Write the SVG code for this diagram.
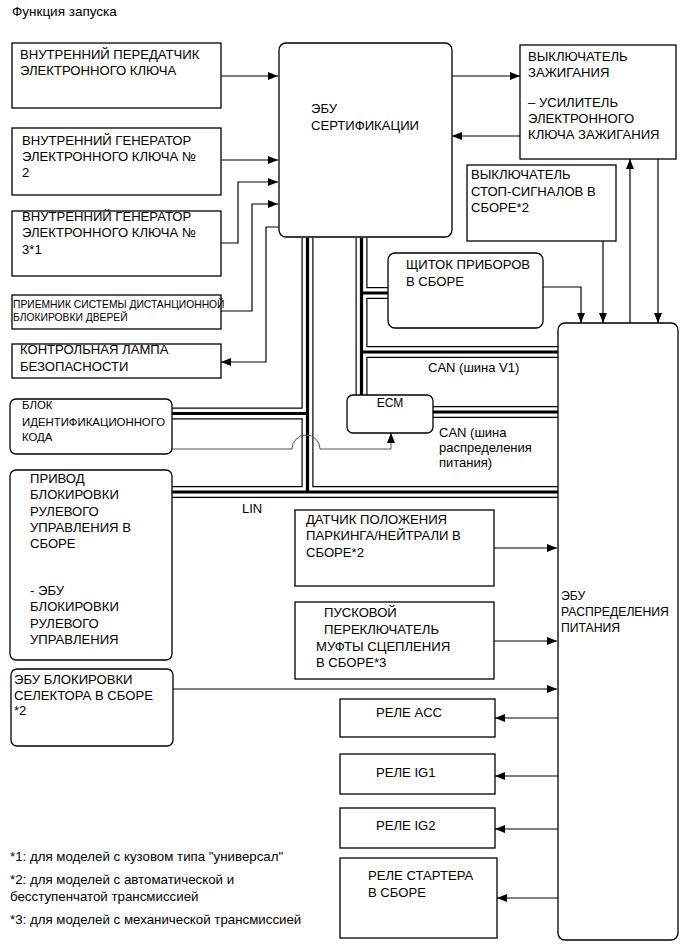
<svg xmlns="http://www.w3.org/2000/svg" width="690" height="952" viewBox="0 0 690 952">
<defs>
<style>
.box{fill:#fff;stroke:#000;stroke-width:1.3}
.t{font-family:"Liberation Sans",Arial,sans-serif;font-size:13.1px;fill:#000}
.s{font-size:10.3px}
.m{font-size:11.4px}
.c{font-size:13px}
.p{font-size:12.2px}
.fn{font-family:"Liberation Sans",Arial,sans-serif;font-size:13.3px;fill:#000}
.ln{fill:none;stroke:#000;stroke-width:1.2}
.gl{fill:none;stroke:#555;stroke-width:1}
.bo{fill:none;stroke:#000;stroke-width:12}
.bw{fill:none;stroke:#fff;stroke-width:9.6}
.bc{fill:none;stroke:#000;stroke-width:3.2}
</style>
<marker id="ar" markerWidth="10" markerHeight="8" refX="10" refY="4" orient="auto" markerUnits="userSpaceOnUse">
<path d="M0,0 L10,4 L0,8 Z" fill="#000"/>
</marker>
</defs>
<rect width="690" height="952" fill="#fff"/>
<text class="t" x="12" y="16" style="font-size:13.5px">Функция запуска</text>

<g id="connectors">
<g id="buses">
<path class="bo" d="M307.5,238 V492 M172,492 H558 M172,413.5 H307.5 M361.5,238 V395 M361.5,293 H388 M361.5,352 H558 M433,412 H558"/>
<path class="bw" d="M307.5,238 V492 M172,492 H558 M172,413.5 H307.5 M361.5,238 V395 M361.5,293 H388 M361.5,352 H558 M433,412 H558"/>
<path class="bc" d="M307.5,238 V492 M172,492 H558 M172,413.5 H307.5 M361.5,238 V395 M361.5,293 H388 M361.5,352 H558 M433,412 H558"/>
</g>
<path class="ln" marker-end="url(#ar)" d="M221,76 H278"/>
<path class="ln" marker-end="url(#ar)" d="M221,160 H278"/>
<path class="ln" marker-end="url(#ar)" d="M221,243 H238 V182 H278"/>
<path class="ln" marker-end="url(#ar)" d="M221,311 H252 V204 H278"/>
<path class="ln" marker-end="url(#ar)" d="M279,227 H266 V362 H221"/>
<path class="ln" marker-end="url(#ar)" d="M452,76 H520"/>
<path class="ln" marker-end="url(#ar)" d="M520,136 H452"/>
<path class="ln" marker-end="url(#ar)" d="M543,287 H581 V323"/>
<path class="ln" marker-end="url(#ar)" d="M603,241 V323"/>
<path class="ln" marker-end="url(#ar)" d="M630,323 V159"/>
<path class="ln" marker-end="url(#ar)" d="M658,159 V323"/>
<path class="gl" marker-end="url(#ar)" d="M172,449 H292 A14,14 0 0 1 320,449 H391 V433"/>
<path class="ln" marker-end="url(#ar)" d="M494,548 H557"/>
<path class="ln" marker-end="url(#ar)" d="M494,641 H557"/>
<path class="ln" marker-end="url(#ar)" d="M173,689 H557"/>
<path class="ln" marker-end="url(#ar)" d="M558,718 H495"/>
<path class="ln" marker-end="url(#ar)" d="M558,776 H495"/>
<path class="ln" marker-end="url(#ar)" d="M558,829 H495"/>
<path class="ln" marker-end="url(#ar)" d="M558,898 H497"/>
</g>

<g id="n-transmitter">
<rect class="box" x="12" y="43" width="209" height="65"/>
<text class="t" x="20" y="59">ВНУТРЕННИЙ ПЕРЕДАТЧИК</text>
<text class="t" x="20" y="75">ЭЛЕКТРОННОГО КЛЮЧА</text>
</g>
<g id="n-gen2">
<rect class="box" x="12" y="128" width="209" height="67"/>
<text class="t" x="22" y="145">ВНУТРЕННИЙ ГЕНЕРАТОР</text>
<text class="t" x="22" y="161">ЭЛЕКТРОННОГО КЛЮЧА №</text>
<text class="t" x="22" y="177">2</text>
</g>
<g id="n-gen3">
<rect class="box" x="12" y="211" width="209" height="65"/>
<text class="t" x="22" y="221">ВНУТРЕННИЙ ГЕНЕРАТОР</text>
<text class="t" x="22" y="237">ЭЛЕКТРОННОГО КЛЮЧА №</text>
<text class="t" x="22" y="254">3*1</text>
</g>
<g id="n-receiver">
<rect class="box" x="12" y="295" width="209" height="34"/>
<text class="t s" x="13" y="308">ПРИЕМНИК СИСТЕМЫ ДИСТАНЦИОННОЙ</text>
<text class="t s" x="13" y="321">БЛОКИРОВКИ ДВЕРЕЙ</text>
</g>
<g id="n-lamp">
<rect class="box" x="12" y="344" width="209" height="34"/>
<text class="t" x="20" y="354">КОНТРОЛЬНАЯ ЛАМПА</text>
<text class="t" x="20" y="371">БЕЗОПАСНОСТИ</text>
</g>
<g id="n-idcode">
<rect class="box" x="10" y="399" width="162" height="55" rx="6"/>
<text class="t m" x="22" y="409">БЛОК</text>
<text class="t m" x="22" y="426">ИДЕНТИФИКАЦИОННОГО</text>
<text class="t m" x="22" y="441">КОДА</text>
</g>
<g id="n-steering">
<rect class="box" x="10" y="470" width="162" height="190" rx="6"/>
<text class="t" x="30" y="483">ПРИВОД</text>
<text class="t" x="30" y="499">БЛОКИРОВКИ</text>
<text class="t" x="30" y="516">РУЛЕВОГО</text>
<text class="t" x="30" y="532">УПРАВЛЕНИЯ В</text>
<text class="t" x="30" y="548">СБОРЕ</text>
<text class="t" x="30" y="595">- ЭБУ</text>
<text class="t" x="30" y="611">БЛОКИРОВКИ</text>
<text class="t" x="30" y="628">РУЛЕВОГО</text>
<text class="t" x="30" y="644">УПРАВЛЕНИЯ</text>
</g>
<g id="n-selector">
<rect class="box" x="11" y="669" width="162" height="77" rx="6"/>
<text class="t" x="14" y="684">ЭБУ БЛОКИРОВКИ</text>
<text class="t" x="14" y="700">СЕЛЕКТОРА В СБОРЕ</text>
<text class="t" x="14" y="715">*2</text>
</g>
<g id="n-cert">
<rect class="box" x="279" y="43" width="173" height="194" rx="7"/>
<text class="t" x="311" y="113">ЭБУ</text>
<text class="t" x="311" y="130">СЕРТИФИКАЦИИ</text>
</g>
<g id="n-ignition">
<rect class="box" x="520" y="45" width="156" height="114"/>
<text class="t" x="528" y="61">ВЫКЛЮЧАТЕЛЬ</text>
<text class="t" x="528" y="77">ЗАЖИГАНИЯ</text>
<text class="t" x="528" y="107">– УСИЛИТЕЛЬ</text>
<text class="t" x="528" y="123">ЭЛЕКТРОННОГО</text>
<text class="t" x="528" y="139">КЛЮЧА ЗАЖИГАНИЯ</text>
</g>
<g id="n-stop">
<rect class="box" x="467" y="165" width="149" height="76"/>
<text class="t" x="471" y="179">ВЫКЛЮЧАТЕЛЬ</text>
<text class="t" x="471" y="196">СТОП-СИГНАЛОВ В</text>
<text class="t" x="471" y="212">СБОРЕ*2</text>
</g>
<g id="n-meter">
<rect class="box" x="388" y="253" width="155" height="75" rx="7"/>
<text class="t" x="406" y="269">ЩИТОК ПРИБОРОВ</text>
<text class="t" x="406" y="286">В СБОРЕ</text>
</g>
<g id="n-ecm">
<rect class="box" x="347" y="395" width="86" height="38" rx="6"/>
<text class="t" x="390" y="407" text-anchor="middle" style="font-size:12px">ECM</text>
</g>
<text class="t c" x="428" y="372">CAN (шина V1)</text>
<text class="t c" x="439" y="437">CAN (шина</text>
<text class="t c" x="439" y="452">распределения</text>
<text class="t c" x="439" y="467">питания)</text>
<text class="t c" x="242" y="513">LIN</text>
<g id="n-power">
<rect class="box" x="558" y="323" width="120" height="617" rx="7"/>
<text class="t p" x="561" y="600">ЭБУ</text>
<text class="t p" x="561" y="616">РАСПРЕДЕЛЕНИЯ</text>
<text class="t p" x="561" y="632">ПИТАНИЯ</text>
</g>
<g id="n-pnp">
<rect class="box" x="295" y="510" width="199" height="76"/>
<text class="t" x="306" y="524">ДАТЧИК ПОЛОЖЕНИЯ</text>
<text class="t" x="306" y="540">ПАРКИНГА/НЕЙТРАЛИ В</text>
<text class="t" x="306" y="557">СБОРЕ*2</text>
</g>
<g id="n-clutch">
<rect class="box" x="295" y="602" width="199" height="77"/>
<text class="t" x="324" y="617">ПУСКОВОЙ</text>
<text class="t" x="324" y="634">ПЕРЕКЛЮЧАТЕЛЬ</text>
<text class="t" x="316" y="651">МУФТЫ СЦЕПЛЕНИЯ</text>
<text class="t" x="316" y="667">В СБОРЕ*3</text>
</g>
<g id="n-acc">
<rect class="box" x="340" y="699" width="155" height="38"/>
<text class="t" x="376" y="717">РЕЛЕ ACC</text>
</g>
<g id="n-ig1">
<rect class="box" x="340" y="754" width="155" height="40"/>
<text class="t" x="376" y="777">РЕЛЕ IG1</text>
</g>
<g id="n-ig2">
<rect class="box" x="340" y="808" width="155" height="40"/>
<text class="t" x="376" y="830">РЕЛЕ IG2</text>
</g>
<g id="n-starter">
<rect class="box" x="340" y="858" width="157" height="80"/>
<text class="t" x="368" y="880">РЕЛЕ СТАРТЕРА</text>
<text class="t" x="368" y="897">В СБОРЕ</text>
</g>
<text class="fn" x="10" y="861">*1: для моделей с кузовом типа "универсал"</text>
<text class="fn" x="10" y="884">*2: для моделей с автоматической и</text>
<text class="fn" x="10" y="901">бесступенчатой трансмиссией</text>
<text class="fn" x="10" y="924">*3: для моделей с механической трансмиссией</text>
</svg>
